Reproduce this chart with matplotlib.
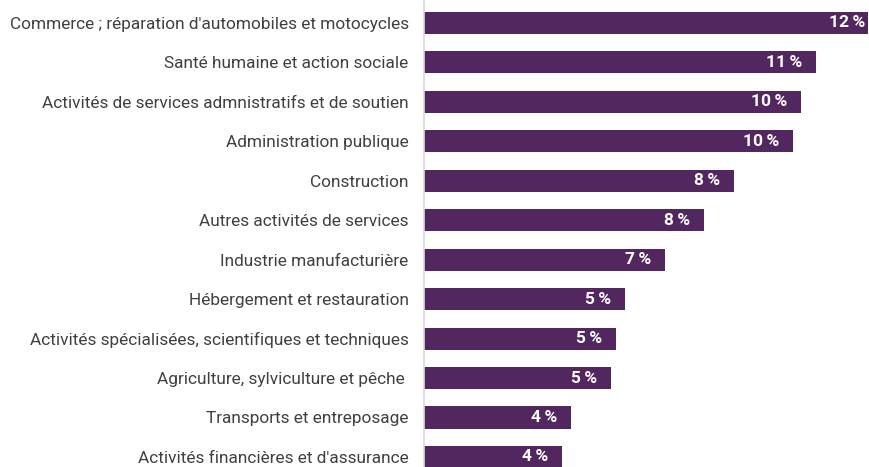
import matplotlib
matplotlib.use("Agg")
import matplotlib.pyplot as plt
import matplotlib.transforms as mtransforms

plt.rcParams['font.family'] = ['Roboto', 'DejaVu Sans']

sectors = [
    "Commerce ; réparation d'automobiles et motocycles",
    "Santé humaine et action sociale",
    "Activités de services admnistratifs et de soutien",
    "Administration publique",
    "Construction",
    "Autres activités de services",
    "Industrie manufacturière",
    "Hébergement et restauration",
    "Activités spécialisées, scientifiques et techniques",
    "Agriculture, sylviculture et pêche ",
    "Transports et entreposage",
    "Activités financières et d'assurance",
]
shares = [12.3, 10.6, 10.2, 9.97, 8.38, 7.57, 6.51, 5.43, 5.19, 5.05, 3.97, 3.73]
labels = ["12\u2009%", "11\u2009%", "10\u2009%", "10\u2009%", "8\u2009%", "8\u2009%",
          "7\u2009%", "5\u2009%", "5\u2009%", "5\u2009%", "4\u2009%", "4\u2009%"]

bar_color = "#52265e"
text_color = "#404040"

fig = plt.figure(figsize=(8.69, 4.67), dpi=100)
ax = fig.add_axes([424 / 869, 0, (868 - 424) / 869, 1])

pos = list(range(len(sectors)))
ax.barh(pos, shares, height=0.56, color=bar_color)

# value labels inside the bar ends
offset = mtransforms.offset_copy(ax.transData, fig=fig, x=-14, y=0, units='dots')
for p, v, lab in zip(pos, shares, labels):
    ax.text(v, p, lab, transform=offset, ha='right', va='center',
            color='white', fontsize=12.5, fontweight='bold')

ax.set_xlim(0, 12.0)
ax.set_ylim(11.255, -0.583)
ax.set_yticks(pos)
ax.set_yticklabels(sectors, fontsize=12.4, color=text_color)
ax.tick_params(axis='y', length=0, pad=11)
ax.set_xticks([])

for s in ['top', 'right', 'bottom']:
    ax.spines[s].set_visible(False)
ax.spines['left'].set_color('#d9d9d9')
ax.spines['left'].set_linewidth(1.2)

fig.savefig("out.png", dpi=100)
